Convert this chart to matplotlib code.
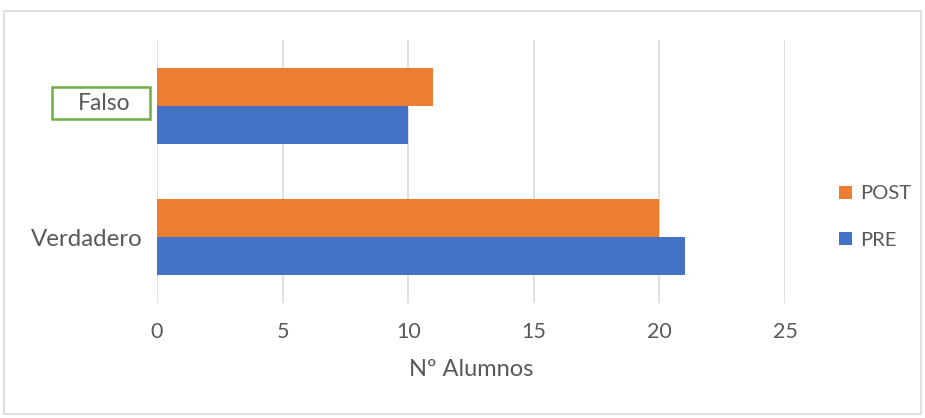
import matplotlib.pyplot as plt
from matplotlib.patches import Rectangle
import numpy as np

categories = ["Verdadero", "Falso"]
pre = [21, 10]
post = [20, 11]
series_names = ["PRE", "POST"]
x_ticks = [0, 5, 10, 15, 20, 25]
x_label = "Nº Alumnos"

BLUE = "#4472C4"
ORANGE = "#ED7D31"
GREEN = "#70AD47"
TEXT = "#595959"
GRID = "#D9D9D9"

plt.rcParams["font.family"] = ["Lato", "DejaVu Sans"]

fig = plt.figure(figsize=(9.25, 4.18), dpi=100)
W, H = 925, 418
ax = fig.add_axes([157 / W, 1 - 303 / H, (785 - 157) / W, (303 - 40) / H])

y = np.arange(len(categories))
h = 0.289
ax.barh(y - h / 2, pre, height=h, color=BLUE, label=series_names[0], zorder=3)
ax.barh(y + h / 2, post, height=h, color=ORANGE, label=series_names[1], zorder=3)

ax.set_xlim(0, 25)
ax.set_ylim(-0.5, 1.5)
ax.set_xticks(x_ticks)
ax.set_xticklabels([str(t) for t in x_ticks], color=TEXT, fontsize=15.5)
ax.tick_params(axis="x", length=0, pad=14)
ax.set_yticks([])
ax.grid(axis="x", color=GRID, linewidth=1.2, zorder=0)
for s in ax.spines.values():
    s.set_visible(False)
ax.set_xlabel(x_label, color=TEXT, fontsize=17, labelpad=12)

# category labels
fig.text(143 / W, 1 - 240 / H, categories[0], ha="right", va="center",
         color=TEXT, fontsize=17.3)
fig.text(130 / W, 1 - 104 / H, categories[1], ha="right", va="center",
         color=TEXT, fontsize=16.5)
fig.patches.append(Rectangle((52 / W, 1 - 119 / H), (150 - 52) / W, (119 - 87) / H,
                             transform=fig.transFigure, fill=False,
                             edgecolor=GREEN, linewidth=1.8))

# legend
handles, labels = ax.get_legend_handles_labels()
leg = fig.legend(handles[::-1], labels[::-1], loc="center left",
                 bbox_to_anchor=(821 / W, 1 - 217 / H), frameon=False,
                 fontsize=14.5, labelcolor=TEXT, handlelength=0.62,
                 handleheight=0.62, handletextpad=0.4, labelspacing=1.45)

# chart border
fig.patches.append(Rectangle((4 / W, 4 / H), (921 - 4) / W, (407 - 4) / H,
                             transform=fig.transFigure, fill=False,
                             edgecolor=GRID, linewidth=1.2))

fig.savefig("out.png", dpi=100)
